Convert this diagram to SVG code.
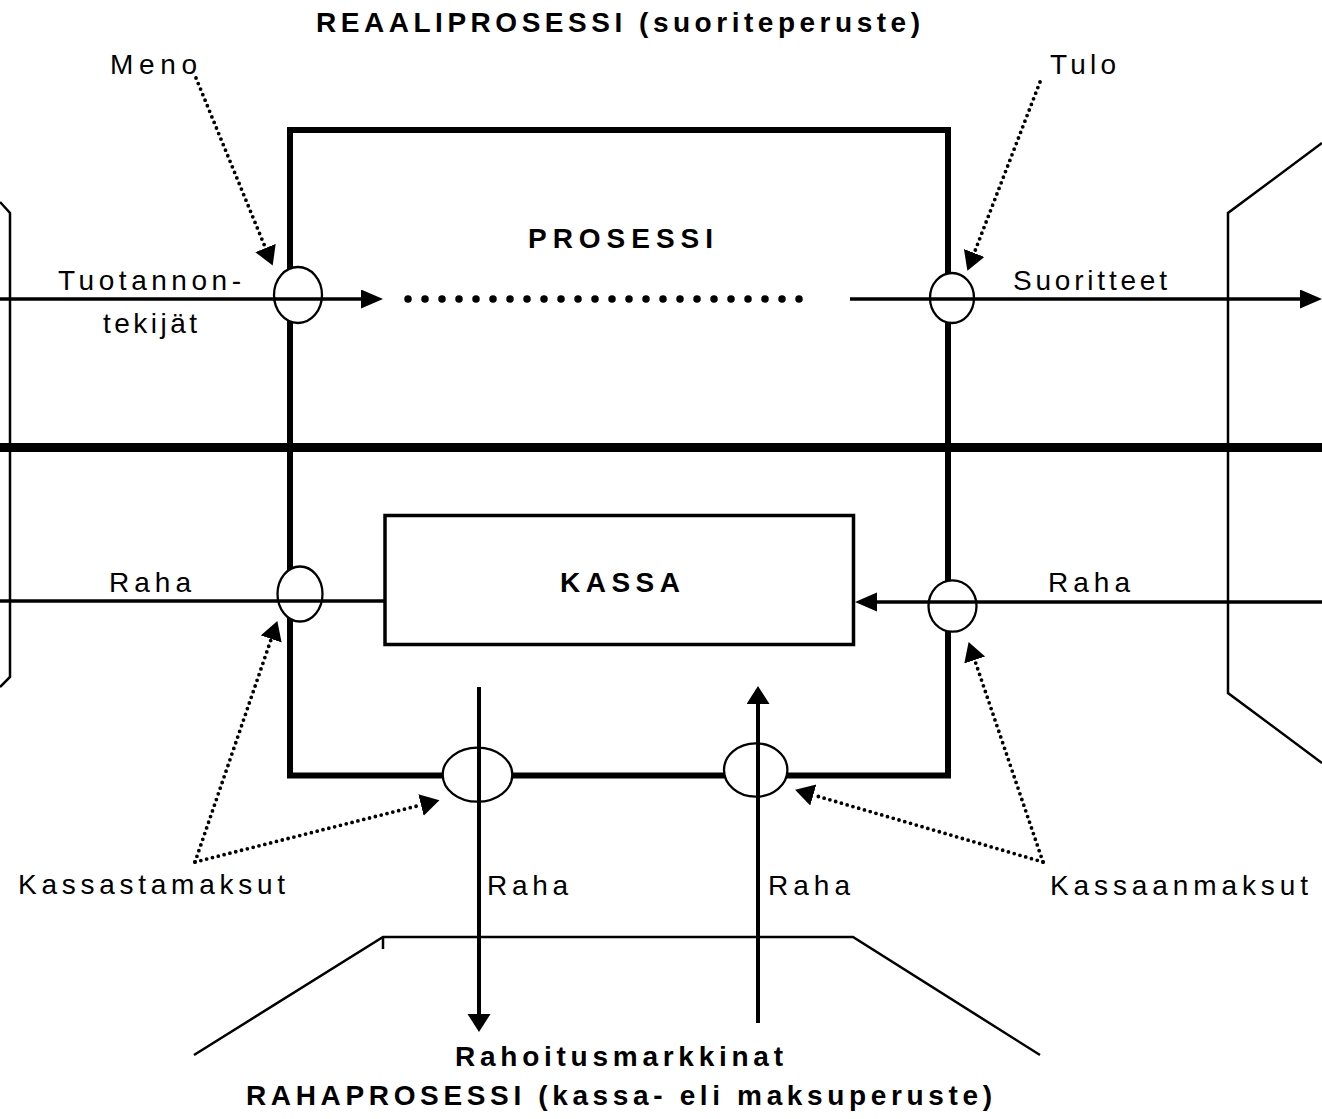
<svg xmlns="http://www.w3.org/2000/svg" width="1322" height="1119" viewBox="0 0 1322 1119">
<style>
  text { font-family: "Liberation Sans", Arial, sans-serif; font-size: 28px; fill: #000; }
  .b { font-weight: bold; }
  .thin { fill: none; stroke: #000; stroke-width: 2.5; }
  .flow { fill: none; stroke: #000; stroke-width: 3.5; }
  .vflow { fill: none; stroke: #000; stroke-width: 4; }
  .dots { fill: none; stroke: #000; stroke-width: 3.8; stroke-linecap: round; stroke-dasharray: 0 6; }
  .port { fill: #fff; stroke: #000; stroke-width: 2.3; }
  .heavy { fill: none; stroke: #000; stroke-width: 6; }
</style>
<defs>
  <marker id="ah" markerUnits="userSpaceOnUse" markerWidth="24" markerHeight="20" refX="0" refY="9.5" orient="auto">
    <path d="M0,0 L22,9.5 L0,19 z" fill="#000"/>
  </marker>
  <marker id="av" markerUnits="userSpaceOnUse" markerWidth="20" markerHeight="24" refX="0" refY="11.5" orient="auto">
    <path d="M0,0 L18,11.5 L0,23 z" fill="#000"/>
  </marker>
  <marker id="ad" markerUnits="userSpaceOnUse" markerWidth="22" markerHeight="23" refX="0" refY="11" orient="auto">
    <path d="M0,0 L19,11 L0,22 z" fill="#000"/>
  </marker>
</defs>
<rect width="1322" height="1119" fill="#fff"/>

<g id="markets">
  <path class="thin" d="M0,202 L10,213 L10,677 L0,687"/>
  <path class="thin" d="M1322,143 L1228,213 L1228,693 L1322,763"/>
  <path class="thin" d="M194,1055 L383,937 L853,937 L1040,1055 M383,937 L383,949"/>
</g>

<g id="divider">
  <line x1="0" y1="447.5" x2="1322" y2="447.5" stroke="#000" stroke-width="9"/>
</g>

<g id="prosessi">
  <rect class="heavy" x="290" y="130" width="658" height="645.5"/>
</g>

<g id="kassa">
  <rect x="385" y="515.5" width="468.5" height="129" fill="#fff" stroke="#000" stroke-width="3.5"/>
</g>

<g id="ports">
  <ellipse class="port" cx="298" cy="295" rx="24" ry="28"/>
  <ellipse class="port" cx="952" cy="298" rx="22" ry="25"/>
  <ellipse class="port" cx="300" cy="594" rx="22.5" ry="27.5"/>
  <ellipse class="port" cx="952.5" cy="606" rx="24" ry="25.7"/>
  <ellipse class="port" cx="477.5" cy="774.7" rx="34.8" ry="27"/>
  <ellipse class="port" cx="755.7" cy="770" rx="31.7" ry="26.7"/>
</g>

<g id="connectors">
  <line class="flow" x1="0" y1="299" x2="361" y2="299" marker-end="url(#ah)"/>
  <line x1="408" y1="299" x2="816" y2="299" stroke="#000" stroke-width="7.5" stroke-linecap="round" stroke-dasharray="0 17"/>
  <line class="flow" x1="850" y1="299" x2="1300" y2="299" marker-end="url(#ah)"/>
  <line class="flow" x1="0" y1="601" x2="385" y2="601"/>
  <line class="flow" x1="1322" y1="602" x2="877" y2="602" marker-end="url(#ah)"/>
  <line class="vflow" x1="479" y1="687" x2="479" y2="1014" marker-end="url(#av)"/>
  <line class="vflow" x1="758" y1="1023" x2="758" y2="704" marker-end="url(#av)"/>
  <line class="dots" x1="196" y1="78" x2="265.5" y2="248" marker-end="url(#ad)"/>
  <line class="dots" x1="1040" y1="82" x2="974.2" y2="253" marker-end="url(#ad)"/>
  <line class="dots" x1="195" y1="862" x2="271.2" y2="639" marker-end="url(#ad)"/>
  <line class="dots" x1="195" y1="862" x2="421" y2="805" marker-end="url(#ad)"/>
  <line class="dots" x1="1043" y1="862" x2="974.7" y2="660" marker-end="url(#ad)"/>
  <line class="dots" x1="1043" y1="862" x2="813.3" y2="795" marker-end="url(#ad)"/>
</g>

<g id="labels">
  <text class="b" x="316" y="32" textLength="604" lengthAdjust="spacing">REAALIPROSESSI (suoriteperuste)</text>
  <text x="110" y="74" textLength="87" lengthAdjust="spacing">Meno</text>
  <text x="1050" y="74" textLength="66" lengthAdjust="spacing">Tulo</text>
  <text class="b" x="528" y="248" textLength="185" lengthAdjust="spacing">PROSESSI</text>
  <text><tspan x="58" y="290" textLength="183" lengthAdjust="spacing">Tuotannon-</tspan><tspan x="103" y="333" textLength="94" lengthAdjust="spacing">tekijät</tspan></text>
  <text x="1013" y="290" textLength="154" lengthAdjust="spacing">Suoritteet</text>
  <text x="109" y="592" textLength="82" lengthAdjust="spacing">Raha</text>
  <text class="b" x="560" y="592" textLength="120" lengthAdjust="spacing">KASSA</text>
  <text x="1048" y="592" textLength="82" lengthAdjust="spacing">Raha</text>
  <text x="18" y="894" textLength="267" lengthAdjust="spacing">Kassastamaksut</text>
  <text x="487" y="895" textLength="81" lengthAdjust="spacing">Raha</text>
  <text x="768" y="895" textLength="82" lengthAdjust="spacing">Raha</text>
  <text x="1050" y="895" textLength="258" lengthAdjust="spacing">Kassaanmaksut</text>
  <text class="b" x="455" y="1066" textLength="328" lengthAdjust="spacing">Rahoitusmarkkinat</text>
  <text class="b" x="246" y="1105" textLength="746" lengthAdjust="spacing">RAHAPROSESSI (kassa- eli maksuperuste)</text>
</g>
</svg>
